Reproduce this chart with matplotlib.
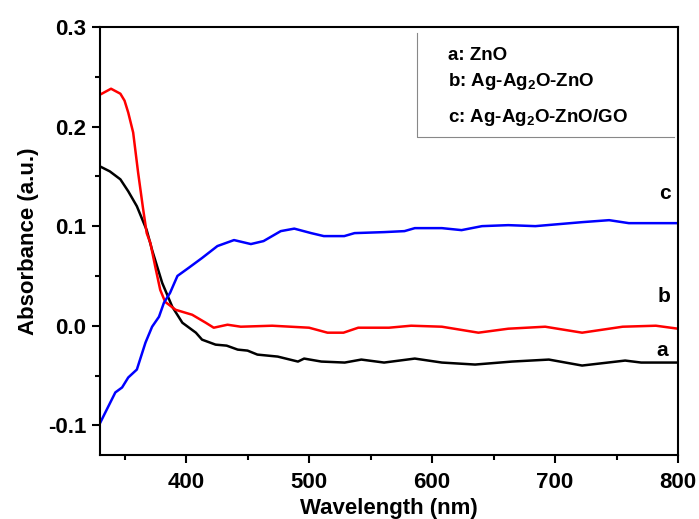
import matplotlib
matplotlib.use("Agg")
import matplotlib.pyplot as plt
from matplotlib.ticker import MultipleLocator

plt.rcParams["font.family"] = ["Liberation Sans", "DejaVu Sans"]
plt.rcParams["mathtext.default"] = "regular"
plt.rcParams["axes.unicode_minus"] = False

# a: ZnO
wl_a = [330, 338, 346.6, 353, 360, 368, 372.4, 380.6, 388.8, 397, 408, 413,
        424, 433, 442, 450, 458, 474.5, 491, 496, 510, 529, 542.5, 561, 586,
        608, 635, 665, 695, 722, 757, 770, 800]
abs_a = [0.160, 0.155, 0.147, 0.135, 0.120, 0.096, 0.076, 0.043, 0.019,
         0.003, -0.007, -0.014, -0.019, -0.020, -0.024, -0.025, -0.029,
         -0.031, -0.036, -0.033, -0.036, -0.037, -0.034, -0.037, -0.033,
         -0.037, -0.039, -0.036, -0.034, -0.040, -0.035, -0.037, -0.037]

# b: Ag-Ag2O-ZnO
wl_b = [330, 333, 339, 346.6, 350, 353, 357, 361, 365, 368, 371, 375, 379,
        383, 391.5, 405, 416, 422.5, 433.7, 444.5, 470, 485, 500, 515, 528,
        540, 565, 583, 608, 637.7, 662, 692, 722, 755, 782, 800]
abs_b = [0.232, 0.234, 0.238, 0.233, 0.226, 0.214, 0.194, 0.154, 0.118,
         0.093, 0.083, 0.059, 0.036, 0.024, 0.016, 0.011, 0.003, -0.002,
         0.001, -0.001, 0.000, -0.001, -0.002, -0.007, -0.007, -0.002,
         -0.002, 0.000, -0.001, -0.007, -0.003, -0.001, -0.007, -0.001,
         0.000, -0.003]

# c: Ag-Ag2O-ZnO/GO
wl_c = [330, 334, 342.5, 348, 353, 360, 367, 372.4, 378, 382, 387, 393, 402,
        413, 425.5, 439, 452.7, 463, 477, 488, 501.7, 512, 528.6, 537, 561,
        577.6, 586, 608, 624, 640.6, 662, 684, 722, 744, 760, 800]
abs_c = [-0.098, -0.088, -0.067, -0.062, -0.052, -0.044, -0.017, -0.001,
         0.009, 0.023, 0.033, 0.050, 0.058, 0.068, 0.080, 0.086, 0.082, 0.085,
         0.095, 0.0975, 0.093, 0.090, 0.090, 0.093, 0.094, 0.095, 0.098,
         0.098, 0.096, 0.100, 0.101, 0.100, 0.104, 0.106, 0.103, 0.103]

legend_lines = ["a: ZnO", "b: Ag-Ag$_2$O-ZnO", "c: Ag-Ag$_2$O-ZnO/GO"]

fig = plt.figure(figsize=(6.99, 5.19), dpi=100)
fig.patch.set_facecolor("white")

ax = fig.add_axes([0.143, 0.123, 0.827, 0.825])
ax.plot(wl_a, abs_a, color="black", lw=1.8)
ax.plot(wl_b, abs_b, color="#ff0000", lw=1.8)
ax.plot(wl_c, abs_c, color="#0000ff", lw=1.8)

ax.set_xlim(330, 800)
ax.set_ylim(-0.13, 0.3)
ax.xaxis.set_major_locator(MultipleLocator(100))
ax.xaxis.set_minor_locator(MultipleLocator(50))
ax.yaxis.set_major_locator(MultipleLocator(0.1))
ax.yaxis.set_minor_locator(MultipleLocator(0.05))
ax.tick_params(which="major", direction="out", length=6, width=1.5,
               labelsize=16, pad=4)
ax.tick_params(axis="x", which="major", pad=6)
ax.tick_params(which="minor", direction="out", length=3.5, width=1.5)
for lab in ax.get_xticklabels() + ax.get_yticklabels():
    lab.set_fontweight("bold")
for sp in ax.spines.values():
    sp.set_linewidth(1.5)

ax.set_xlabel("Wavelength (nm)", fontsize=16, fontweight="bold", labelpad=4)
ax.set_ylabel("Absorbance (a.u.)", fontsize=16, fontweight="bold", labelpad=6)

# curve letters at the right end
ax.text(789, 0.133, "c", fontsize=15, fontweight="bold", ha="center", va="center")
ax.text(789, 0.029, "b", fontsize=15, fontweight="bold", ha="center", va="center")
ax.text(787, -0.025, "a", fontsize=15, fontweight="bold", ha="center", va="center")

# legend box, open at top and right
ax.plot([588, 588, 797], [0.294, 0.19, 0.19], color="#888888", lw=0.8,
        clip_on=False)
for text, y in zip(legend_lines, [0.271, 0.245, 0.209]):
    ax.text(613, y, text, fontsize=13.5, fontweight="bold", va="center",
            ha="left")

fig.savefig("out.png", dpi=100)
